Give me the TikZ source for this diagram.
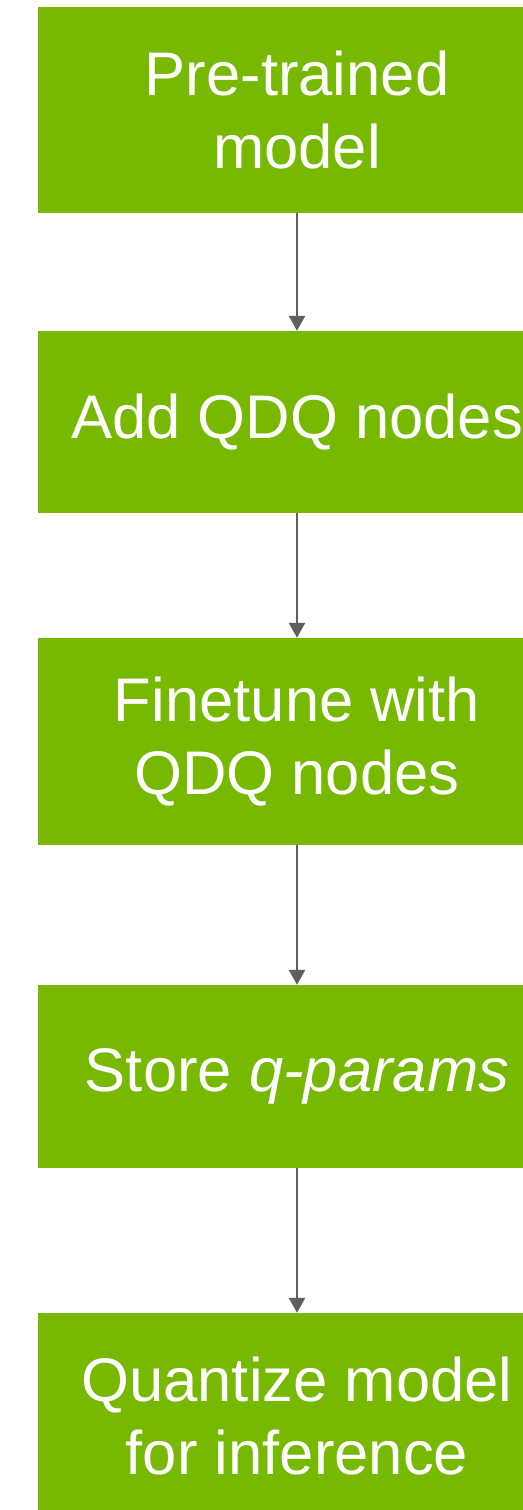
\documentclass[tikz,border=0pt]{standalone}
\usepackage{fontspec}
\setmainfont{Liberation Sans}
\usetikzlibrary{arrows.meta}
\definecolor{nvgreen}{HTML}{76B900}
\definecolor{arrowgray}{HTML}{5F5F5F}
\tikzset{
	stepbox/.style={fill=nvgreen, text=white, align=center, inner sep=0pt,
		minimum width=518bp, font=\fontsize{61.8}{74}\selectfont},
	flow/.style={draw=arrowgray, line width=2.6bp, -{Triangle[length=15bp,width=16bp]}}
}

\begin{document}
\begin{tikzpicture}[x=1bp, y=-1bp]
			%%%%% START %%%%%
			
			\useasboundingbox (0, 0) rectangle (523, 1510);
			
			\node[stepbox, minimum height=206bp] (pretrained) at (297, 110) {Pre-trained\\model};
			\node[stepbox, minimum height=182bp] (addqdq) at (297, 422) {Add QDQ nodes};
			\node[stepbox, minimum height=207bp] (finetune) at (297, 741.5) {Finetune with\\QDQ nodes};
			\node[stepbox, minimum height=183bp] (store) at (297, 1076.5) {Store \textit{q-params}};
			\node[stepbox, minimum height=206bp] (quantize) at (297, 1416) {Quantize model\\for inference};
			
			\draw[flow] (pretrained) -- (addqdq);
			\draw[flow] (addqdq) -- (finetune);
			\draw[flow] (finetune) -- (store);
			\draw[flow] (store) -- (quantize);
			
			%%%%% END %%%%%
\end{tikzpicture}
\end{document}
